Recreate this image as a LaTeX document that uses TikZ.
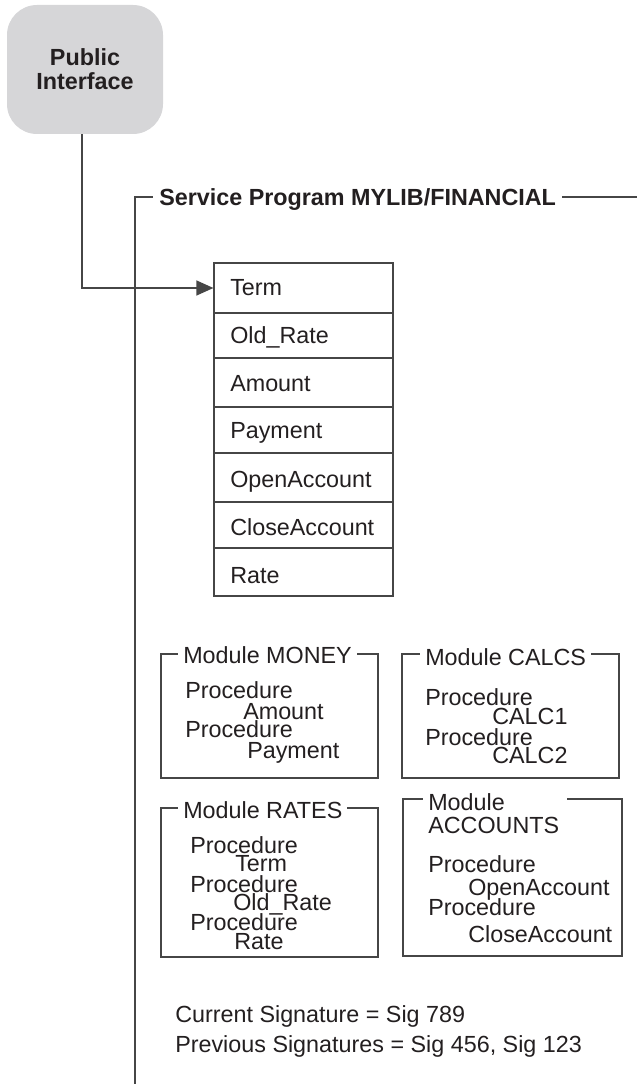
\documentclass[tikz,border=0pt]{standalone}
\usepackage{fontspec}
\setmainfont{Liberation Sans}
\usetikzlibrary{arrows.meta}
\definecolor{ink}{RGB}{35,31,32}
\definecolor{rule}{RGB}{70,70,70}
\definecolor{pifill}{RGB}{214,214,216}
\begin{document}
\begin{tikzpicture}[x=0.75pt,y=-0.75pt,
  font=\fontsize{17.5pt}{20pt}\selectfont,
  every node/.style={text=ink},
  txt/.style={anchor=base west,inner sep=0pt},
  ttl/.style={anchor=base west,fill=white,inner xsep=3.75pt,inner ysep=1pt},
  cell/.style={draw=rule,line width=0.9pt,minimum width=134.25pt,inner sep=0pt},
  modbox/.style={draw=rule,line width=0.9pt,inner sep=0pt},
  conn/.style={draw=rule,line width=0.9pt},
  pibox/.style={fill=pifill,rounded corners=22.5pt,minimum width=117pt,minimum height=96.75pt,
    align=center,font=\fontsize{17.5pt}{18pt}\selectfont\bfseries}]
\useasboundingbox (0,0) rectangle (637,1084);

% public interface
\node[pibox] (pi) at (85,69.5) {Public\\Interface};

% service program frame
\coordinate (spTR) at (637,197);
\coordinate (spBL) at (135,1084);
\draw[conn] (spBL) |- (spTR);
\node[ttl,font=\fontsize{17.5pt}{20pt}\selectfont\bfseries,inner xsep=4.5pt] (sp) at (153,206) {Service Program MYLIB/FINANCIAL};

% export table
\node[cell,minimum height=37.5pt]  (r1) at (303.5,288) {};
\node[cell,minimum height=33.75pt] (r2) at (303.5,335.5) {};
\node[cell,minimum height=36.75pt] (r3) at (303.5,382.5) {};
\node[cell,minimum height=34.5pt]  (r4) at (303.5,430) {};
\node[cell,minimum height=36.75pt] (r5) at (303.5,477.5) {};
\node[cell,minimum height=34.5pt]  (r6) at (303.5,525) {};
\node[cell,minimum height=36pt]    (r7) at (303.5,572) {};
\node[txt] (t1) at (230,295) {Term};
\node[txt] (t2) at (230,343) {Old\_Rate};
\node[txt] (t3) at (230,391) {Amount};
\node[txt] (t4) at (230,438) {Payment};
\node[txt] (t5) at (230,487) {OpenAccount};
\node[txt] (t6) at (230,535) {CloseAccount};
\node[txt] (t7) at (230,583) {Rate};

% connector
\draw[conn,-{Triangle[length=12.75pt,width=11.25pt]}] ([xshift=-2.25pt]pi.south) |- (r1.west);

% module MONEY
\node[modbox,minimum width=162.75pt,minimum height=93pt] (mMoney) at (269.5,716) {};
\node[ttl] (mMoneyT) at (178,663) {Module MONEY};
\node[txt] (mo1) at (185,698) {Procedure};
\node[txt] (mo2) at (243,719) {Amount};
\node[txt] (mo3) at (185,737) {Procedure};
\node[txt] (mo4) at (247,758) {Payment};

% module CALCS
\node[modbox,minimum width=162.75pt,minimum height=93pt] (mCalcs) at (510.5,716) {};
\node[ttl] (mCalcsT) at (420,665) {Module CALCS};
\node[txt] (ca1) at (425,705) {Procedure};
\node[txt] (ca2) at (492,724) {CALC1};
\node[txt] (ca3) at (425,745) {Procedure};
\node[txt] (ca4) at (492,763) {CALC2};

% module RATES
\node[modbox,minimum width=162.75pt,minimum height=111.75pt] (mRates) at (269.5,882.5) {};
\node[ttl] (mRatesT) at (178,818) {Module RATES};
\node[txt] (ra1) at (190,853) {Procedure};
\node[txt] (ra2) at (235,871) {Term};
\node[txt] (ra3) at (190,892) {Procedure};
\node[txt] (ra4) at (233,910) {Old\_Rate};
\node[txt] (ra5) at (190,930) {Procedure};
\node[txt] (ra6) at (234,949) {Rate};

% module ACCOUNTS
\node[modbox,minimum width=164.25pt,minimum height=117.75pt] (mAcc) at (512.5,877.5) {};
\node[ttl,text width=100.5pt,align=left] (mAccT) at (423,810) {Module};
\node[txt] (mAccT2) at (428,833) {ACCOUNTS};
\node[txt] (ac1) at (428,872) {Procedure};
\node[txt] (ac2) at (468,895) {OpenAccount};
\node[txt] (ac3) at (428,915) {Procedure};
\node[txt] (ac4) at (468,942) {CloseAccount};

% signatures
\node[txt] (sig1) at (175,1022) {Current Signature = Sig 789};
\node[txt] (sig2) at (175,1052) {Previous Signatures = Sig 456, Sig 123};
\end{tikzpicture}
\end{document}
